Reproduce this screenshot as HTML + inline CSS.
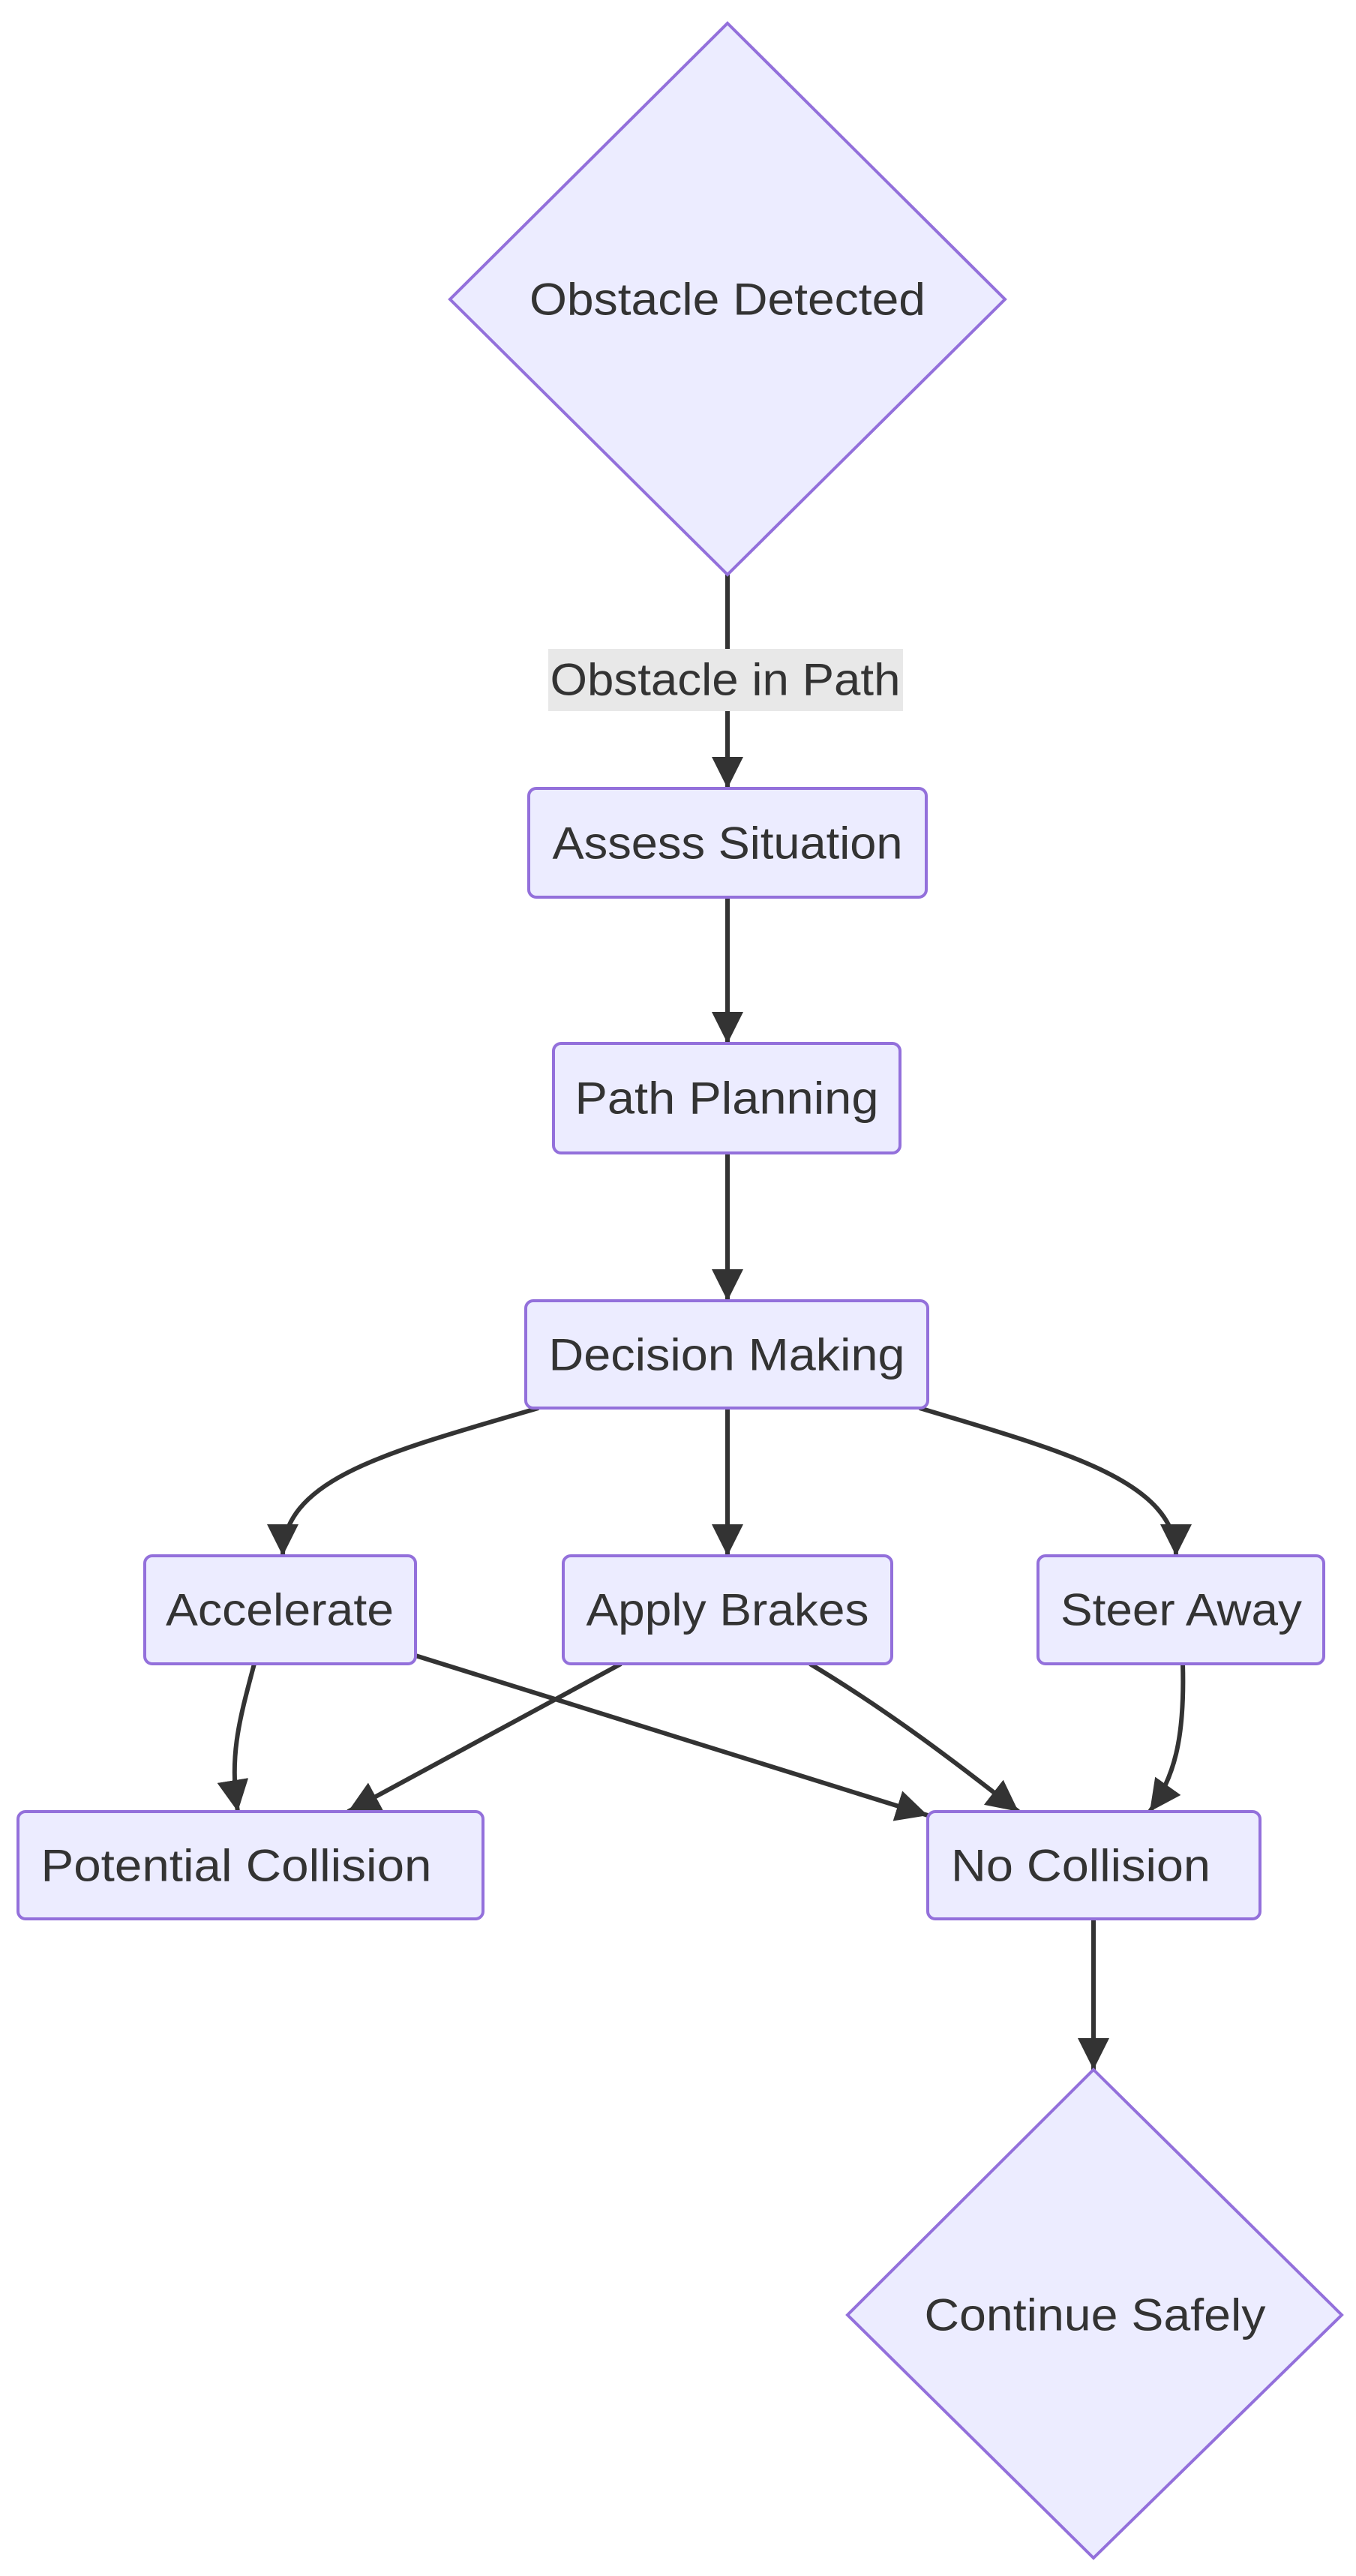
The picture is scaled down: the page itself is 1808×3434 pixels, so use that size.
<!DOCTYPE html>
<html><head><meta charset="utf-8"><style>html,body{margin:0;padding:0;background:#fff}svg{display:block}</style></head>
<body>
<svg width="1808" height="3434" viewBox="0 0 1808 3434" xmlns="http://www.w3.org/2000/svg" font-family="Liberation Sans, sans-serif">
<defs>
<marker id="ah" viewBox="0 0 10 10" refX="10" refY="5" markerWidth="7" markerHeight="7" markerUnits="strokeWidth" orient="auto"><path d="M0,0 L10,5 L0,10 z" fill="#333"/></marker>
</defs>
<g fill="none" stroke="#333" stroke-width="6" marker-end="url(#ah)">
<path d="M970,766 L970,1051"/>
<path d="M970,1196 L970,1391"/>
<path d="M970,1537 L970,1734"/>
<path d="M718,1877 C520,1935 377,1970 377,2074"/>
<path d="M970,1877 L970,2074"/>
<path d="M1226,1877 C1420,1935 1568,1975 1568,2074"/>
<path d="M339,2218 C320,2290 305,2340 317,2415"/>
<path d="M554,2207 L1237,2420"/>
<path d="M828,2218 L464,2415"/>
<path d="M1080,2218 C1200,2290 1300,2370 1358,2415"/>
<path d="M1577,2218 C1580,2320 1565,2370 1533,2415"/>
<path d="M1458,2558 L1458,2759"/>
</g>
<rect x="731" y="865" width="473" height="83" fill="#e8e8e8"/>
<g fill="#ECECFF" stroke="#9370DB" stroke-width="4">
<polygon points="970,31 1340,399 970,766 600,399"/>
<rect x="705" y="1051" width="530" height="145" rx="10"/>
<rect x="738" y="1391" width="462" height="146" rx="10"/>
<rect x="701" y="1734" width="536" height="143" rx="10"/>
<rect x="193" y="2074" width="361" height="144" rx="10"/>
<rect x="751" y="2074" width="438" height="144" rx="10"/>
<rect x="1384" y="2074" width="381" height="144" rx="10"/>
<rect x="24" y="2415" width="620" height="143" rx="10"/>
<rect x="1237" y="2415" width="443" height="143" rx="10"/>
<polygon points="1458,2759 1789,3086 1458,3410 1130,3086"/>
</g>
<g fill="#333" font-size="60" text-anchor="middle" dominant-baseline="central">
<text x="970" y="399" textLength="528" lengthAdjust="spacingAndGlyphs">Obstacle Detected</text>
<text x="967" y="906" textLength="467" lengthAdjust="spacingAndGlyphs">Obstacle in Path</text>
<text x="970" y="1124" textLength="467" lengthAdjust="spacingAndGlyphs">Assess Situation</text>
<text x="969" y="1464" textLength="405" lengthAdjust="spacingAndGlyphs">Path Planning</text>
<text x="969" y="1806" textLength="475" lengthAdjust="spacingAndGlyphs">Decision Making</text>
<text x="373" y="2146" textLength="304" lengthAdjust="spacingAndGlyphs">Accelerate</text>
<text x="970" y="2146" textLength="377" lengthAdjust="spacingAndGlyphs">Apply Brakes</text>
<text x="1575" y="2146" textLength="322" lengthAdjust="spacingAndGlyphs">Steer Away</text>
<text x="315" y="2487" textLength="521" lengthAdjust="spacingAndGlyphs">Potential Collision</text>
<text x="1441" y="2487" textLength="346" lengthAdjust="spacingAndGlyphs">No Collision</text>
<text x="1460" y="3086" textLength="455" lengthAdjust="spacingAndGlyphs">Continue Safely</text>
</g>
</svg>
</body></html>
